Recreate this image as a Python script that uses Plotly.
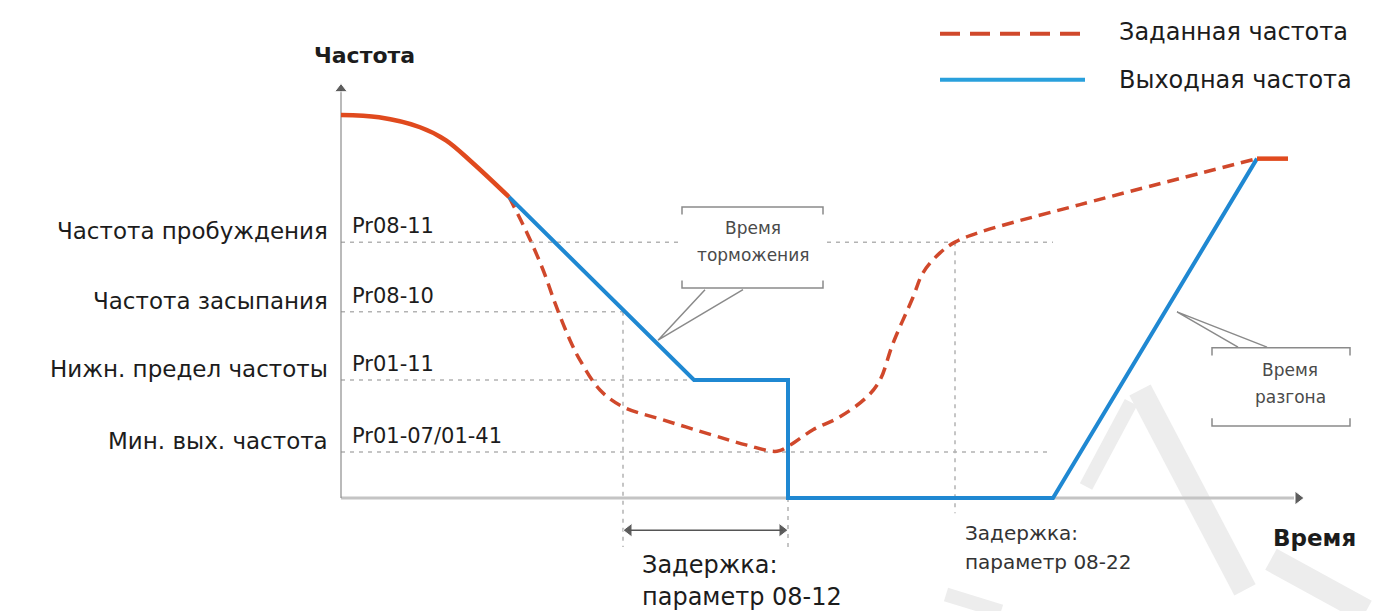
import plotly.graph_objects as go

# frequency levels (chart units, 0 = time axis)
f_wake = 33.4   # Pr08-11
f_sleep = 24.3  # Pr08-10
f_low = 15.4    # Pr01-11
f_min = 6.0     # Pr01-07/01-41

level_values = [f_wake, f_sleep, f_low, f_min]
level_names = ["Частота пробуждения", "Частота засыпания",
               "Нижн. предел частоты", "Мин. вых. частота"]
level_params = ["Pr08-11", "Pr08-10", "Pr01-11", "Pr01-07/01-41"]

# common start of both curves (solid red)
start_t = [0, 3.8, 7.9, 10.5, 13.2, 16.8]
start_f = [50, 49.7, 48.4, 46.7, 43.7, 39.3]

# commanded frequency (dashed)
cmd_t = [16.8, 18.6, 20.2, 21.5, 22.9, 23.9, 25.9, 28.2, 32.2, 37.2, 40.6, 43.6,
         44.9, 47.2, 49.9, 52.6, 53.9, 55.2, 57.2, 58.2, 59.9, 61.4, 63.9, 73.9, 91.6]
cmd_f = [39.3, 34.6, 29.8, 25.1, 20.6, 18.0, 14.1, 11.9, 10.2, 8.2, 6.9, 6.1,
         6.9, 8.9, 10.6, 13.2, 15.4, 20.2, 26.2, 29.4, 32.0, 33.4, 34.7, 38.3, 44.3]

# output frequency (blue)
out_t = [16.8, 35.3, 44.7, 44.7, 71.2, 91.6]
out_f = [39.3, 15.4, 15.4, 0, 0, 44.3]

# end where command and output meet again
end_t = [91.6, 94.7]
end_f = [44.3, 44.3]

t_delay_start = 28.2   # start of delay 08-12
t_drop = 44.7          # output drops to 0
t_knee = 61.4          # command passes wake level
t_restart = 71.2       # output restarts
t_axis_end = 96.3
f_axis_end = 54.2

RED = "#e04a1e"
RED_DASH = "#d0482b"
BLUE = "#1f88d2"
GRID = "#b3b3b3"
TXT = "#1c1c1c"
FONT = "DejaVu Sans"

fig = go.Figure()

# watermark (faint)
wm = [((79.9, 14.1), (90.4, -12.0), 24), ((79.0, 12.5), (74.5, 1.5), 14),
      ((93.0, -8.0), (102.5, -14.8), 24), ((60.5, -12.6), (66.0, -14.8), 14)]
for (a, b, w) in wm:
    fig.add_shape(type="line", x0=a[0], y0=a[1], x1=b[0], y1=b[1], layer="below",
                  line=dict(color="#ededed", width=w))

# dotted guide lines
guides_h = [(f_wake, 0, t_restart), (f_sleep, 0, t_delay_start),
            (f_low, 0, 35.3), (f_min, 0, t_restart - 0.3)]
for (fy, x0, x1) in guides_h:
    fig.add_shape(type="line", x0=x0, x1=x1, y0=fy, y1=fy, layer="below",
                  line=dict(color=GRID, width=1.5, dash="4px,5px"))
guides_v = [(t_delay_start, f_sleep, -6.4), (t_drop, 0, -6.4), (t_knee, f_wake, -2.0)]
for (tx, y0, y1) in guides_v:
    fig.add_shape(type="line", x0=tx, x1=tx, y0=y0, y1=y1, layer="below",
                  line=dict(color=GRID, width=1.5, dash="4px,5px"))

# callout boxes (white background + bracket lines)
boxes = [(34.1, 48.2, 27.4, 38.0), (87.1, 100.9, 9.4, 19.6)]
for (x0, x1, y0, y1) in boxes:
    fig.add_shape(type="rect", x0=x0 - 0.3, x1=x1 + 0.3, y0=y0, y1=y1, layer="below",
                  line=dict(width=0), fillcolor="white")
    tk = 1.0
    fig.add_shape(type="path", path=f"M {x0},{y1 - tk} L {x0},{y1} L {x1},{y1} L {x1},{y1 - tk}",
                  line=dict(color="#8a8a8a", width=1.5))
    fig.add_shape(type="path", path=f"M {x0},{y0 + tk} L {x0},{y0} L {x1},{y0} L {x1},{y0 + tk}",
                  line=dict(color="#8a8a8a", width=1.5))

leaders = [((36.4, 27.2), (40.2, 27.2), (31.7, 20.6)),
           ((89.7, 19.7), (92.6, 19.7), (83.6, 24.3))]
for (a, b, tip) in leaders:
    fig.add_shape(type="path",
                  path=f"M {a[0]},{a[1]} L {tip[0]},{tip[1]} L {b[0]},{b[1]}",
                  line=dict(color="#8a8a8a", width=1.5))

# axes
fig.add_shape(type="line", x0=0, x1=t_axis_end - 1.0, y0=0, y1=0,
              line=dict(color="#c4c4c4", width=3), layer="below")
fig.add_shape(type="line", x0=0, x1=0, y0=0, y1=f_axis_end - 1.0,
              line=dict(color="#8c8c8c", width=1.2), layer="below")
# delay double arrow
fig.add_shape(type="line", x0=t_delay_start + 0.5, x1=t_drop - 0.5, y0=-4.2, y1=-4.2,
              line=dict(color="#555555", width=1.5))

fig.add_trace(go.Scatter(
    x=[0, t_axis_end - 0.6, t_delay_start + 0.6, t_drop - 0.6],
    y=[f_axis_end - 0.8, 0, -4.2, -4.2],
    mode="markers",
    marker=dict(symbol=["triangle-up", "triangle-right", "triangle-left", "triangle-right"],
                size=[11, 12, 12, 12], color="#1a1a1a"),
    hoverinfo="skip", showlegend=False))

# curves
fig.add_trace(go.Scatter(x=cmd_t, y=cmd_f, mode="lines", line_shape="spline",
                         line=dict(color=RED_DASH, width=3.5, dash="12px,7px", smoothing=1.0),
                         name="Заданная частота", showlegend=False))
fig.add_trace(go.Scatter(x=out_t, y=out_f, mode="lines",
                         line=dict(color=BLUE, width=4),
                         name="Выходная частота", showlegend=False))
fig.add_trace(go.Scatter(x=start_t, y=start_f, mode="lines", line_shape="spline",
                         line=dict(color=RED, width=4.5), showlegend=False))
fig.add_trace(go.Scatter(x=end_t, y=end_f, mode="lines",
                         line=dict(color=RED, width=4.5), showlegend=False))

# legend drawn by hand
fig.add_shape(type="line", x0=59.9, x1=74.9, y0=60.6, y1=60.6,
              line=dict(color=RED_DASH, width=4, dash="20px,10px"))
fig.add_shape(type="line", x0=59.9, x1=74.4, y0=54.6, y1=54.6,
              line=dict(color="#29a0dc", width=4))

ann = []
def txt(text, x, y, size, xa="center", ya="middle", bold=False, color=TXT, ys=0):
    ann.append(dict(text=text, x=x, y=y, xref="x", yref="y", showarrow=False,
                    xanchor=xa, yanchor=ya, yshift=ys,
                    font=dict(family=FONT, size=size, color=color,
                              weight="bold" if bold else "normal")))

txt("Заданная частота", 77.6, 60.8, 24, xa="left")
txt("Выходная частота", 77.6, 54.6, 24, xa="left")
txt("Частота", 2.3, 57.8, 22, bold=True)
txt("Время", 97.3, -5.2, 23, bold=True)
for name, par, lv in zip(level_names, level_params, level_values):
    txt(name, -1.1, lv, 23, xa="right", ya="bottom", ys=-4)
    txt(par, 0.9, lv, 21, xa="left", ya="bottom", ys=2)
txt("Задержка:", 29.9, -8.75, 24, xa="left")
txt("параметр 08-12", 29.9, -12.9, 24, xa="left")
txt("Задержка:", 62.2, -4.6, 20, xa="left", color="#333333")
txt("параметр 08-22", 62.2, -8.4, 20, xa="left", color="#333333")
txt("Время", 41.2, 35.2, 17, color="#4a4a4a")
txt("торможения", 41.2, 31.7, 17, color="#4a4a4a")
txt("Время", 94.9, 16.7, 17, color="#4a4a4a")
txt("разгона", 94.9, 13.2, 17, color="#4a4a4a")

fig.update_layout(
    width=1375, height=611,
    margin=dict(l=0, r=0, t=0, b=0),
    paper_bgcolor="white", plot_bgcolor="white",
    font=dict(family=FONT, color=TXT),
    xaxis=dict(range=[-34.1, 103.4], visible=False, fixedrange=True),
    yaxis=dict(range=[-14.75, 65.01], visible=False, fixedrange=True),
    annotations=ann,
    showlegend=False,
)

fig.write_html("out.html", config={"displayModeBar": False},
               post_script="document.body.style.margin='0';")
